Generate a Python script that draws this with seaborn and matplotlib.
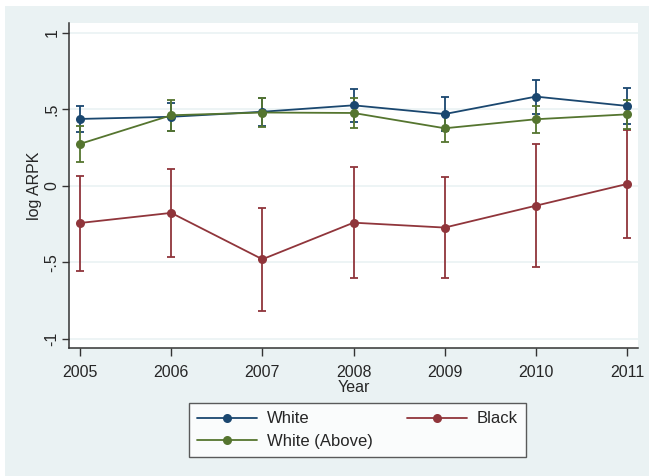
import numpy as np
import pandas as pd
import matplotlib
matplotlib.use("Agg")
import matplotlib.pyplot as plt
import seaborn as sns

years = [2005, 2006, 2007, 2008, 2009, 2010, 2011]

white = [0.438, 0.452, 0.485, 0.527, 0.470, 0.584, 0.523]
white_lo = [0.350, 0.360, 0.392, 0.420, 0.360, 0.472, 0.403]
white_hi = [0.525, 0.545, 0.577, 0.632, 0.580, 0.693, 0.640]

black = [-0.242, -0.176, -0.479, -0.240, -0.272, -0.129, 0.013]
black_lo = [-0.556, -0.462, -0.817, -0.599, -0.603, -0.529, -0.338]
black_hi = [0.067, 0.109, -0.142, 0.122, 0.059, 0.275, 0.366]

above = [0.275, 0.462, 0.480, 0.477, 0.377, 0.436, 0.468]
above_lo = [0.158, 0.362, 0.388, 0.379, 0.288, 0.344, 0.370]
above_hi = [0.395, 0.560, 0.575, 0.575, 0.466, 0.525, 0.562]

y_ticks = [-1, -0.5, 0, 0.5, 1]
y_ticklabels = ["-1", "-.5", "0", ".5", "1"]

groups = ["White", "Black", "White (Above)"]
colors = {"White": "#1a476f", "Black": "#90353b", "White (Above)": "#55752f"}
series = {
    "White": (white, white_lo, white_hi),
    "Black": (black, black_lo, black_hi),
    "White (Above)": (above, above_lo, above_hi),
}

rows = []
for g in groups:
    v, lo, hi = series[g]
    for y, a, b, c in zip(years, v, lo, hi):
        rows.append({"Year": y, "val": a, "lo": b, "hi": c, "group": g})
df = pd.DataFrame(rows)

sns.set_style("white")
plt.rcParams["font.family"] = ["Liberation Sans", "DejaVu Sans"]

bg = "#eaf2f3"
fig = plt.figure(figsize=(6.49, 4.76), dpi=100, facecolor="white")
fig.patches.append(plt.Rectangle((5 / 649, 0), 1, 1 - 6 / 476,
                                 transform=fig.transFigure, facecolor=bg,
                                 edgecolor="none", zorder=-10))
ax = fig.add_axes([69 / 649, 1 - 348 / 476, (638 - 69) / 649, (348 - 23) / 476])
ax.set_facecolor("white")

for yt in y_ticks:
    ax.axhline(yt, color=bg, lw=1.2, zorder=0)

for g in groups:
    d = df[df["group"] == g]
    col = colors[g]
    ax.errorbar(d["Year"], d["val"],
                yerr=[d["val"] - d["lo"], d["hi"] - d["val"]],
                fmt="none", ecolor=col, elinewidth=1.3, capsize=3,
                capthick=1.3, zorder=2)
    sns.lineplot(data=d, x="Year", y="val", color=col, marker="o",
                 markersize=6.5, markeredgewidth=0, linewidth=1.3,
                 ax=ax, label=g, zorder=3)

ax.set_xlim(2004.879, 2011.12)
ax.set_ylim(-1.059, 1.065)
ax.set_xticks(years)
ax.set_xticklabels([str(y) for y in years], fontsize=11.5)
ax.set_yticks(y_ticks)
ax.set_yticklabels(y_ticklabels, fontsize=11.5, rotation=90, va="center")
ax.tick_params(axis="both", direction="out", length=5, width=1,
               color="#333333", left=True, bottom=True)
ax.tick_params(axis="x", pad=6, length=6)
ax.tick_params(axis="y", pad=2, length=5)
for s in ["top", "right"]:
    ax.spines[s].set_visible(False)
for s in ["left", "bottom"]:
    ax.spines[s].set_color("#333333")
    ax.spines[s].set_linewidth(1.1)
ax.set_xlabel("Year", fontsize=11.5, labelpad=0)
ax.set_ylabel("log ARPK", fontsize=11.5, labelpad=2)

h, l = ax.get_legend_handles_labels()
order = [l.index("White"), l.index("White (Above)"), l.index("Black")]
leg = fig.legend([h[i] for i in order], [l[i] for i in order],
                 loc="upper left", bbox_to_anchor=(189 / 649, 1 - 403 / 476),
                 ncol=2, frameon=True, fancybox=False, fontsize=12,
                 handlelength=3.6, columnspacing=2.0, handletextpad=0.6,
                 borderpad=0.5, labelspacing=0.45, borderaxespad=0)
leg.get_frame().set_edgecolor("#333333")
leg.get_frame().set_linewidth(1.0)
if ax.get_legend():
    ax.get_legend().remove()

fig.savefig("out.png", dpi=100, facecolor=fig.get_facecolor())
